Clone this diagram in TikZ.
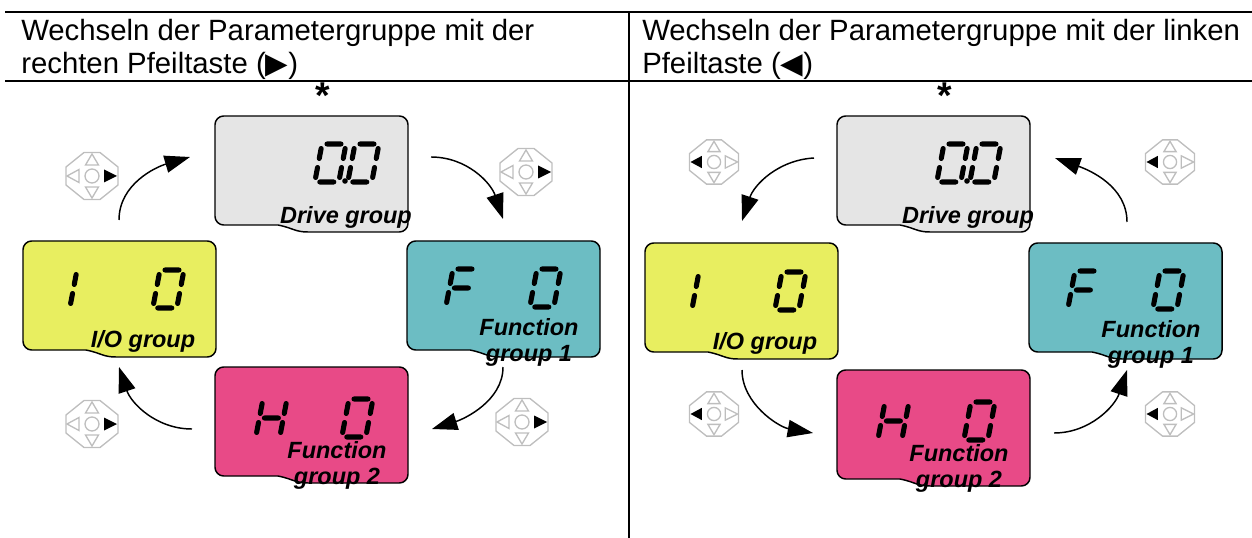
\documentclass[tikz,border=0pt]{standalone}
\usepackage{fontspec}
\setmainfont{Liberation Sans}
\newfontfamily\symfont{DejaVu Sans}
\usetikzlibrary{arrows.meta}
\definecolor{drivecol}{RGB}{229,229,229}
\definecolor{iocol}{RGB}{232,238,96}
\definecolor{funcacol}{RGB}{108,189,195}
\definecolor{funcbcol}{RGB}{232,74,135}
\definecolor{keycol}{RGB}{190,190,190}
\tikzset{
	rule/.style={line width=1.4pt},
	hdr/.style={anchor=west, inner sep=0pt, align=left, font=\fontsize{22}{24.75}\selectfont},
	star/.style={inner sep=0pt, font=\fontsize{28}{28}\selectfont\bfseries},
	panel/.style={draw=black, line width=1.1pt},
	grp/.style={inner sep=0pt, align=center, font=\fontsize{17.6}{19.5}\selectfont\bfseries\itshape},
	seg/.style={line width=3.8pt, line cap=round, xslant=0.19},
	flow/.style={line width=1.1pt, -{Triangle[length=19pt, width=13pt]}},
	keyline/.style={draw=keycol, line width=1pt},
	digitzero/.pic={\draw[seg] (5,0)--(19,0) (24,4.5)--(24,14.5) (24,23.5)--(24,33.5) (19,38)--(5,38) (0,33.5)--(0,23.5) (0,14.5)--(0,4.5);},
	digitone/.pic={\draw[seg] (24,4.5)--(24,14.5) (24,23.5)--(24,33.5);},
	digitef/.pic={\draw[seg] (5,0)--(19,0) (0,4.5)--(0,14.5) (0,23.5)--(0,33.5) (5,19)--(19,19);},
	digitaitch/.pic={\draw[seg] (24,4.5)--(24,14.5) (24,23.5)--(24,33.5) (0,4.5)--(0,14.5) (0,23.5)--(0,33.5) (5,19)--(19,19);},
	keyright/.pic={\keybody{keyline}{fill=black}},
	keyleft/.pic={\keybody{fill=black}{keyline}},
}
% pad with four triangles, #1 is the left one and #2 the right one
\newcommand{\keybody}[2]{
	\draw[keyline] (-8,-23.5)--(8,-23.5)--(26,-9)--(26,9)--(8,23.5)--(-8,23.5)--(-26,9)--(-26,-9)--cycle;
	\draw[keyline] (0,0) circle (7);
	\draw[keyline] (0,-22)--(6.5,-11)--(-6.5,-11)--cycle;
	\draw[keyline] (0,22)--(6.5,11)--(-6.5,11)--cycle;
	\path[#1] (-25,0)--(-13,-6.5)--(-13,6.5)--cycle;
	\path[#2] (25,0)--(12,-6.5)--(12,6.5)--cycle;
}
\newcommand{\lcdpanel}[4]{
	\coordinate (#1) at (#2,#3);
	\draw[panel, fill=#4, shift={(#2,#3)}] (93,116) .. controls (80,116) and (78,112) .. (63,109) [rounded corners=6.5pt] -- (0,109) -- (0,0) -- (193,0) -- (193,116) [sharp corners] -- cycle;
}

\begin{document}
\begin{tikzpicture}[x=0.75pt, y=-0.75pt]
\useasboundingbox (0,0) rectangle (1252,538);

% Table
\coordinate (tl) at (5,12);
\coordinate (tr) at (1252,12);
\coordinate (ml) at (5,81);
\coordinate (mr) at (1252,81);
\coordinate (vt) at (629,12);
\coordinate (vb) at (629,538);
\draw[rule] (tl) -- (tr);
\draw[rule] (ml) -- (mr);
\draw[rule] (vt) -- (vb);

\node[hdr] (hleft) at (21,49) {Wechseln der Parametergruppe mit der\\rechten Pfeiltaste ({\symfont ▶})};
\node[hdr] (hright) at (642,49) {Wechseln der Parametergruppe mit der linken\\Pfeiltaste ({\symfont ◀})};
\node[star] (sleft) at (323,96) {*};
\node[star] (sright) at (945,96) {*};

% Left panels
\lcdpanel{ldrive}{215}{116}{drivecol}
\lcdpanel{lio}{23}{241}{iocol}
\lcdpanel{lfa}{407}{241}{funcacol}
\lcdpanel{lfb}{215}{367}{funcbcol}

\pic at ([shift={(107,28)}]ldrive) {digitzero};
\pic at ([shift={(140,28)}]ldrive) {digitzero};
\fill ([shift={(130,65)}]ldrive) circle (2.8);
\pic at ([shift={(30,29)}]lio) {digitone};
\pic at ([shift={(137,29)}]lio) {digitzero};
\pic at ([shift={(46,28)}]lfa) {digitef};
\pic at ([shift={(130,28)}]lfa) {digitzero};
\pic at ([shift={(48,32)}]lfb) {digitaitch};
\pic at ([shift={(134,32)}]lfb) {digitzero};

\node[grp] (tdrive) at ([shift={(131,101)}]ldrive) {Drive group};
\node[grp] (tio) at ([shift={(120,100)}]lio) {I/O group};
\node[grp] (tfa) at ([shift={(122,101)}]lfa) {Function\\group 1};
\node[grp] (tfb) at ([shift={(122,98)}]lfb) {Function\\group 2};

% Right panels
\lcdpanel{rdrive}{837}{116}{drivecol}
\lcdpanel{rio}{645}{243}{iocol}
\lcdpanel{rfa}{1029}{243}{funcacol}
\lcdpanel{rfb}{837}{370}{funcbcol}

\pic at ([shift={(107,28)}]rdrive) {digitzero};
\pic at ([shift={(140,28)}]rdrive) {digitzero};
\fill ([shift={(130,65)}]rdrive) circle (2.8);
\pic at ([shift={(30,29)}]rio) {digitone};
\pic at ([shift={(137,29)}]rio) {digitzero};
\pic at ([shift={(46,28)}]rfa) {digitef};
\pic at ([shift={(131,28)}]rfa) {digitzero};
\pic at ([shift={(48,32)}]rfb) {digitaitch};
\pic at ([shift={(134,32)}]rfb) {digitzero};

\node[grp] (udrive) at ([shift={(131,101)}]rdrive) {Drive group};
\node[grp] (uio) at ([shift={(120,100)}]rio) {I/O group};
\node[grp] (ufa) at ([shift={(122,101)}]rfa) {Function\\group 1};
\node[grp] (ufb) at ([shift={(122,98)}]rfb) {Function\\group 2};

% Keys
\pic at (92,176) {keyright};
\pic at (526,172) {keyright};
\pic at (522,422) {keyright};
\pic at (92,424) {keyright};
\pic[scale=0.94] at (714,162) {keyleft};
\pic[scale=0.94] at (1170,162) {keyleft};
\pic[scale=0.94] at (714,414) {keyleft};
\pic[scale=0.94] at (1170,414) {keyleft};

% Edges
\coordinate (as) at (119,220); \coordinate (ae) at (190,157);
\coordinate (bs) at (431,157); \coordinate (be) at (503,219);
\coordinate (cs) at (503,367); \coordinate (ce) at (432,429);
\coordinate (ds) at (192,429); \coordinate (de) at (119,367);
\draw[flow] (as) .. controls +(0,-36) and +(-34,10) .. (ae);
\draw[flow] (bs) .. controls +(36,0) and +(-12,-36) .. (be);
\draw[flow] (cs) .. controls +(0,34) and +(32,-10) .. (ce);
\draw[flow] (ds) .. controls +(-36,0) and +(12,36) .. (de);

\coordinate (es) at (814,158); \coordinate (ee) at (742,221);
\coordinate (fs) at (742,370); \coordinate (fe) at (813,433);
\coordinate (gs) at (1054,433); \coordinate (ge) at (1127,370);
\coordinate (hs) at (1127,222); \coordinate (he) at (1055,158);
\draw[flow] (es) .. controls +(-36,2) and +(12,-36) .. (ee);
\draw[flow] (fs) .. controls +(0,34) and +(-34,-6) .. (fe);
\draw[flow] (gs) .. controls +(36,0) and +(-12,36) .. (ge);
\draw[flow] (hs) .. controls +(0,-36) and +(34,12) .. (he);
\end{tikzpicture}
\end{document}
